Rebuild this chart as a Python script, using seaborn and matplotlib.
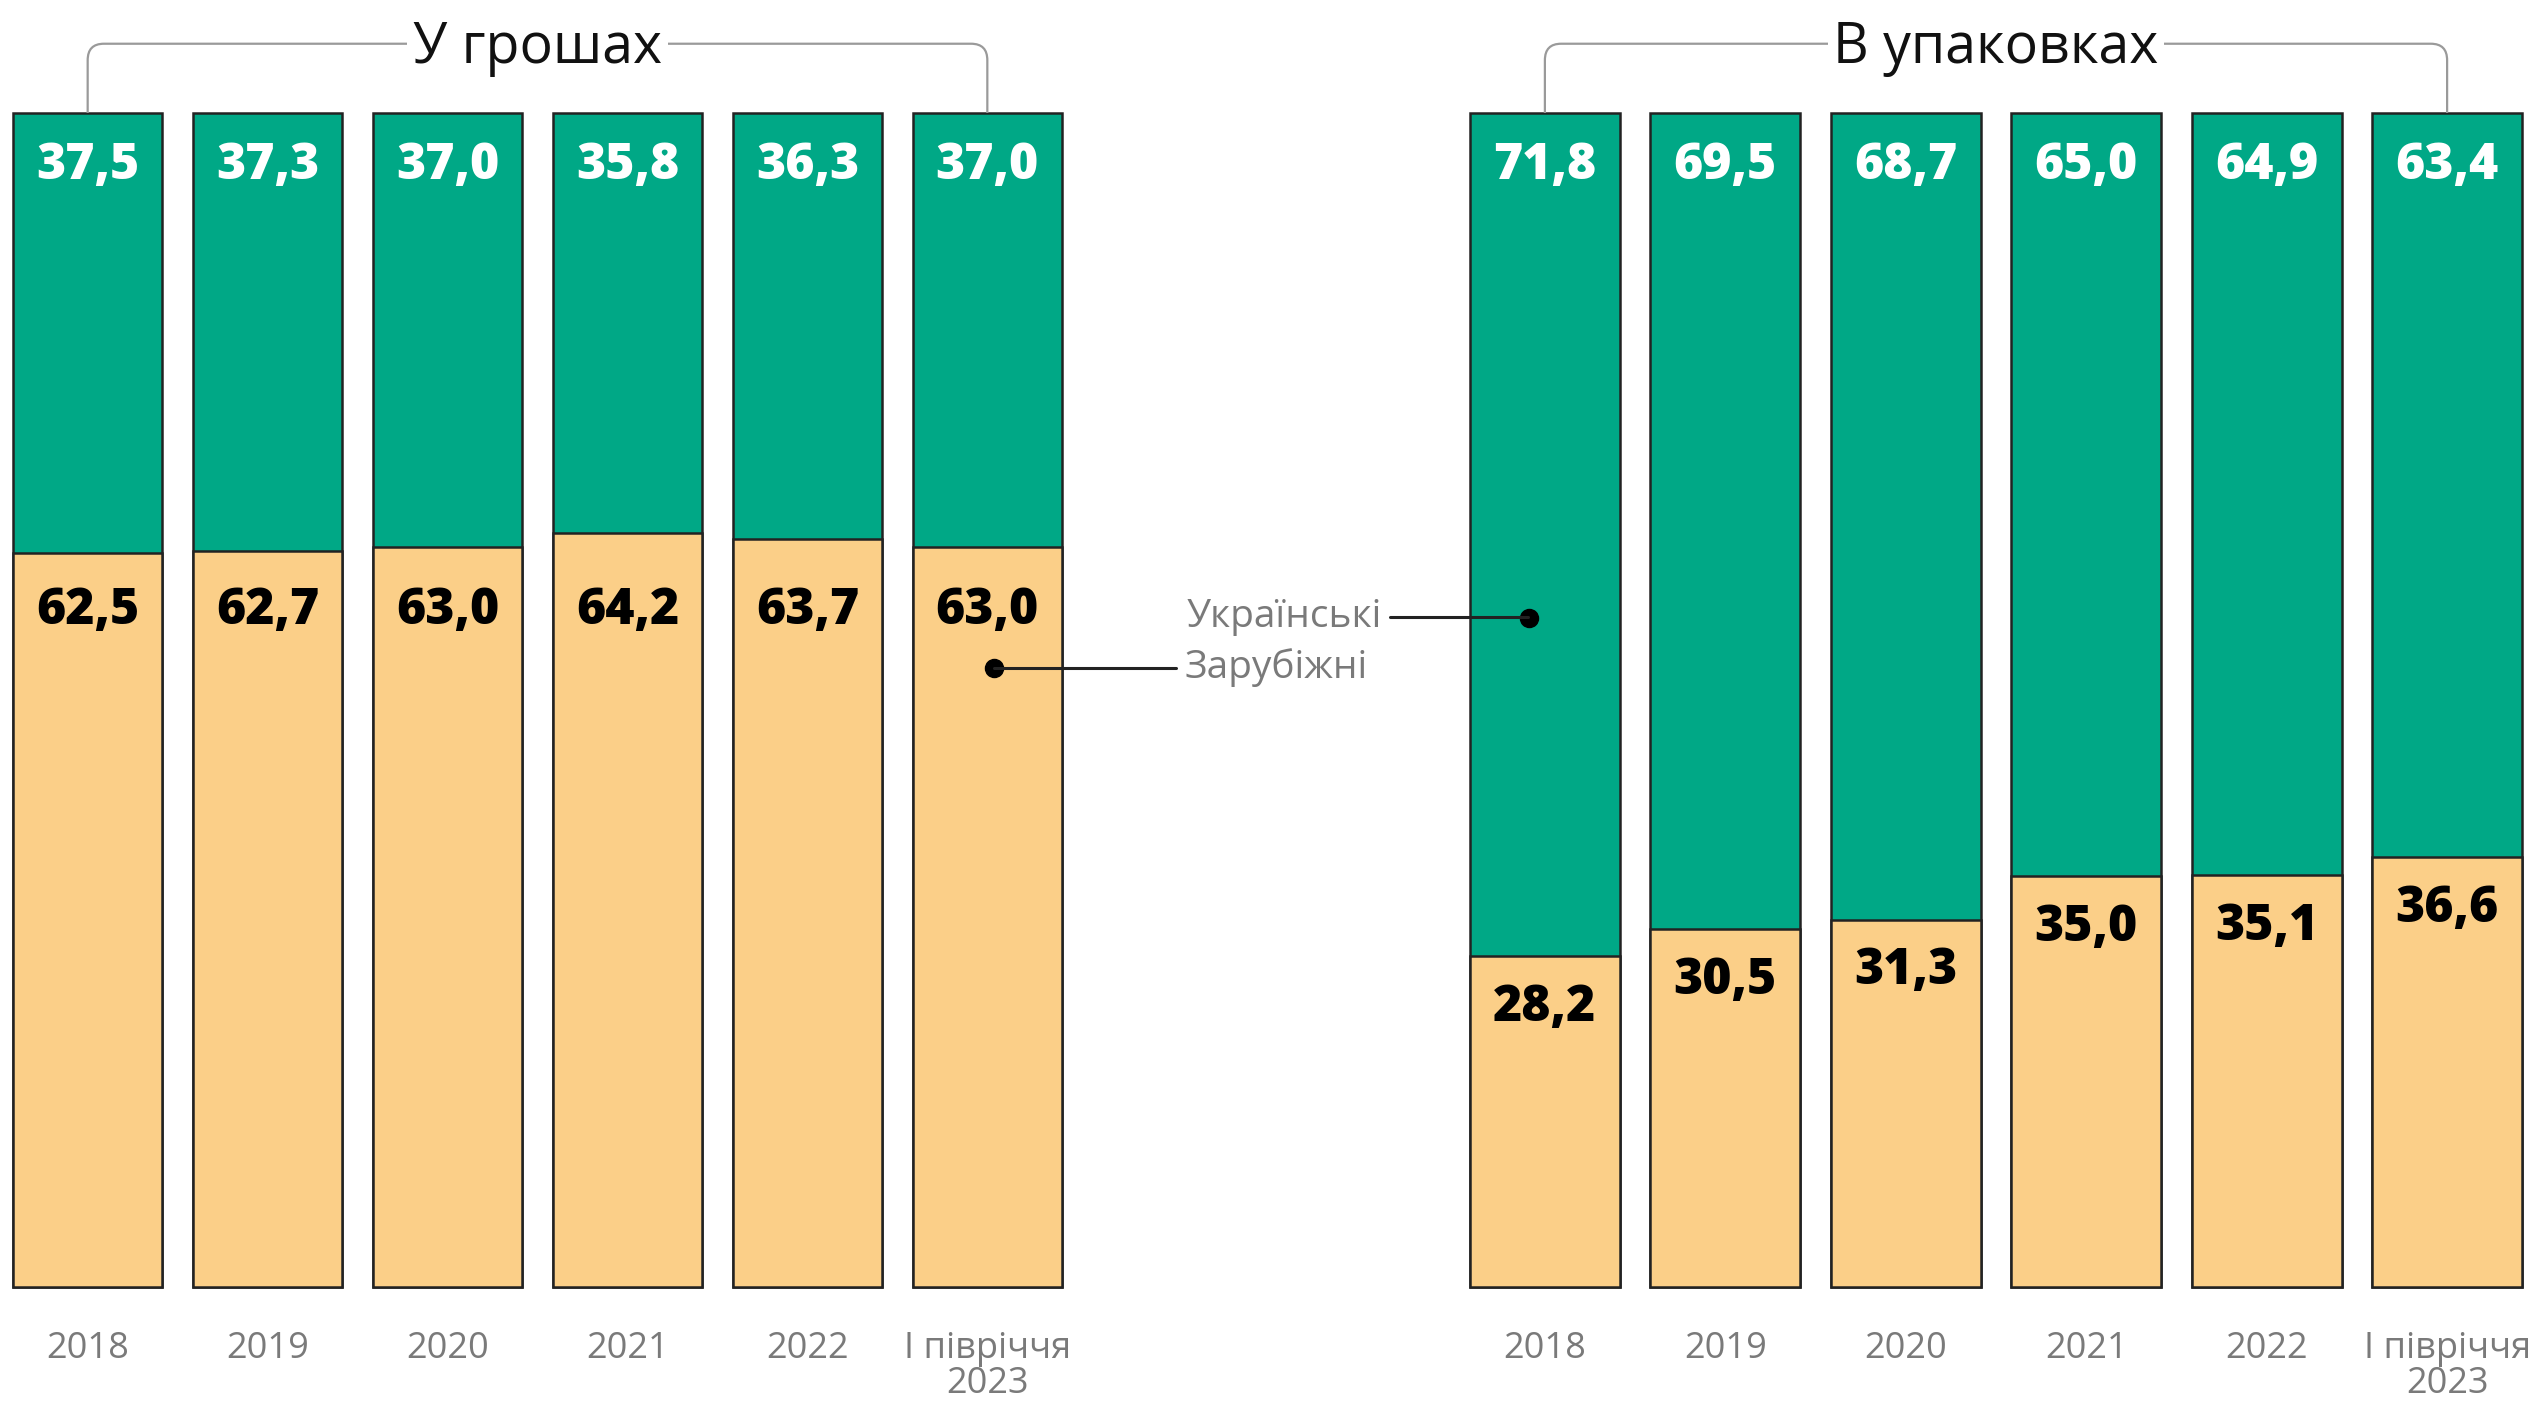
import matplotlib
matplotlib.use("Agg")
import matplotlib.pyplot as plt
import seaborn as sns
import pandas as pd
from matplotlib.path import Path
from matplotlib.patches import PathPatch
from matplotlib.lines import Line2D

# ---- data ----
categories = ["2018", "2019", "2020", "2021", "2022", "I півріччя\n2023"]
money_ukr = [37.5, 37.3, 37.0, 35.8, 36.3, 37.0]
money_foreign = [62.5, 62.7, 63.0, 64.2, 63.7, 63.0]
pack_ukr = [71.8, 69.5, 68.7, 65.0, 64.9, 63.4]
pack_foreign = [28.2, 30.5, 31.3, 35.0, 35.1, 36.6]
titles = ["У грошах", "В упаковках"]
label_ukr = "Українські"
label_foreign = "Зарубіжні"

GREEN = "#00A886"
ORANGE = "#FBCF88"
EDGE = "#222222"
GREY = "#7a7a7a"

sns.set_theme(style="white")
plt.rcParams['font.family'] = ['Open Sans', 'DejaVu Sans']

W, H = 2543, 1401
fig = plt.figure(figsize=(W / 100, H / 100), dpi=100)

top_px, bot_px = 113, 1287
panels = [(13, 1062), (1470, 2522)]
bw = 0.83

def fx(px):
    return px / W

def fy(py):
    return 1 - py / H

axes = []
for k, ((x0, x1), ukr, foreign, title) in enumerate(zip(panels, [money_ukr, pack_ukr], [money_foreign, pack_foreign], titles)):
    ax = fig.add_axes([fx(x0), fy(bot_px), fx(x1 - x0), (bot_px - top_px) / H])
    df = pd.DataFrame({"cat": categories, "ukr": ukr, "foreign": foreign})
    df["total"] = df["ukr"] + df["foreign"]
    sns.barplot(data=df, x="cat", y="total", order=categories, color=GREEN,
                width=bw, edgecolor=EDGE, linewidth=1.8, saturation=1, ax=ax)
    sns.barplot(data=df, x="cat", y="foreign", order=categories, color=ORANGE,
                width=bw, edgecolor=EDGE, linewidth=1.8, saturation=1, ax=ax)
    for p in ax.patches:
        p.set_clip_on(False)
    ax.set_xlim(-bw / 2, len(categories) - 1 + bw / 2)
    ax.set_ylim(0, 100)
    ax.set_xlabel("")
    ax.set_ylabel("")
    ax.set_yticks([])
    ax.tick_params(axis="x", length=0, pad=32, labelsize=26, labelcolor=GREY)
    for lbl in ax.get_xticklabels():
        lbl.set_linespacing(0.95)
    for s in ax.spines.values():
        s.set_visible(False)
    for i, (u, f) in enumerate(zip(ukr, foreign)):
        tot = u + f
        ax.text(i, tot - 4.5, f"{u:.1f}".replace(".", ","), ha="center", va="center",
                color="white", fontsize=36, fontweight=800, clip_on=False)
        yf = 57.6 if k == 0 else f - 4.4
        ax.text(i, yf, f"{f:.1f}".replace(".", ","), ha="center", va="center",
                color="black", fontsize=36, fontweight=800, clip_on=False)
    # bracket
    n = len(categories) - 1
    yb = 105.9
    rx, ry = 0.09, 1.4
    verts = [(0, 100), (0, yb - ry), (0, yb), (rx, yb), (n - rx, yb), (n, yb), (n, yb - ry), (n, 100)]
    codes = [Path.MOVETO, Path.LINETO, Path.CURVE3, Path.CURVE3, Path.LINETO, Path.CURVE3, Path.CURVE3, Path.LINETO]
    ax.add_patch(PathPatch(Path(verts, codes), fill=False, edgecolor="#9a9a9a", lw=1.6, clip_on=False))
    ax.text(n / 2, yb - 0.4, title, ha="center", va="center", fontsize=40, color="#111111",
            bbox=dict(facecolor="white", edgecolor="none", pad=4), clip_on=False)
    axes.append(ax)

# annotations
ax_l, ax_r = axes
ax_r.plot([-0.09], [57.0], "o", color="black", markersize=13, clip_on=False)
ax_l.plot([5.036], [52.7], "o", color="black", markersize=13, clip_on=False)
fig.add_artist(Line2D([fx(1390), fx(1528)], [fy(617), fy(617)], color="#222222", lw=2.2))
fig.add_artist(Line2D([fx(994), fx(1176)], [fy(668), fy(668)], color="#222222", lw=2.2))
fig.text(fx(1382), fy(617), label_ukr, ha="right", va="center", fontsize=28, color=GREY)
fig.text(fx(1185), fy(668), label_foreign, ha="left", va="center", fontsize=28, color=GREY)

fig.savefig("out.png", dpi=100, facecolor="white")
